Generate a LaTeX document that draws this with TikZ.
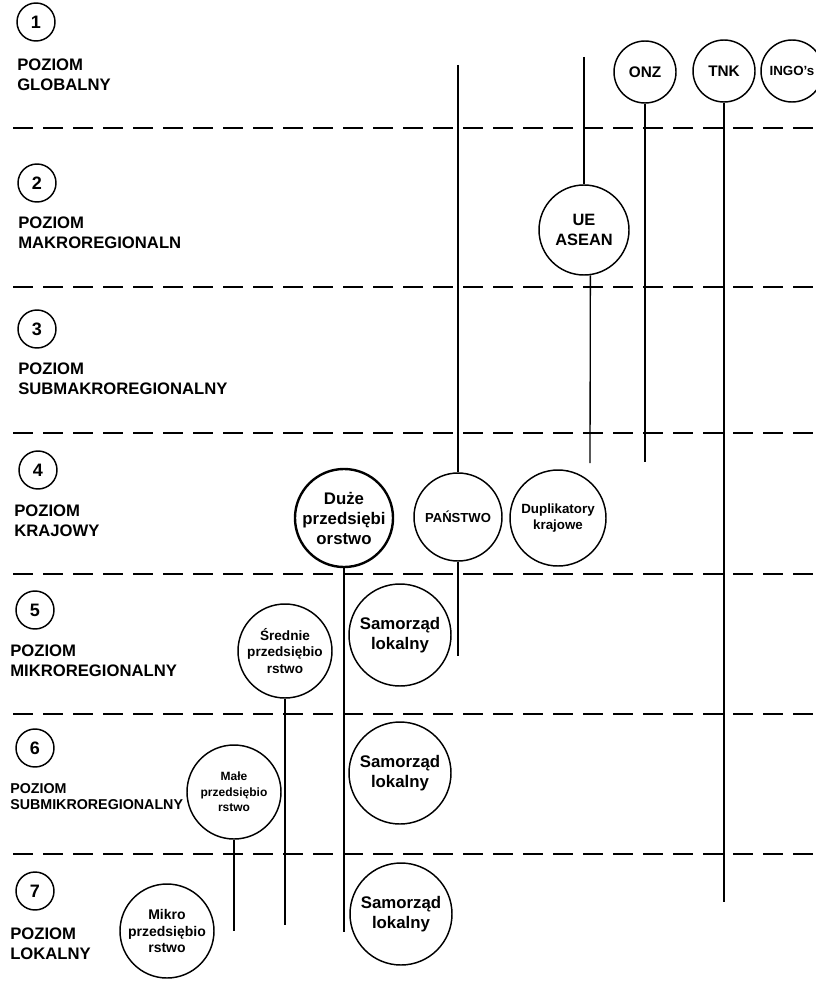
\documentclass[tikz,border=0pt]{standalone}
\usepackage{fontspec}
\setmainfont{Liberation Sans}
\usetikzlibrary{positioning}

\begin{document}
\begin{tikzpicture}[x=0.75pt, y=-0.75pt,
    lvl/.style={circle, draw, line width=1.1pt, minimum size=28.5pt, inner sep=0pt, font=\fontsize{13.5}{15}\selectfont\bfseries},
    poziom/.style={anchor=north west, align=left, inner sep=0pt, font=\fontsize{12.5}{14.5}\selectfont\bfseries},
    org/.style={circle, draw, line width=1.1pt, inner sep=0pt, align=center},
    sep/.style={line width=2.2pt, dash pattern=on 15pt off 7.5pt},
    link/.style={line width=1pt}]
    \useasboundingbox (0,0) rectangle (816,995);

    % poziomy
    \foreach \y in {128,287,433,574,714,854}
        \draw[sep] (13,\y) -- (816,\y);

    \node[lvl] (l1) at (36,22) {1};
    \node[lvl] (l2) at (37,183) {2};
    \node[lvl] (l3) at (37,329) {3};
    \node[lvl] (l4) at (38,470) {4};
    \node[lvl] (l5) at (35,610) {5};
    \node[lvl] (l6) at (35,748) {6};
    \node[lvl] (l7) at (35,891) {7};

    \node[poziom] (p1) at (17,59) {POZIOM\\GLOBALNY};
    \node[poziom] (p2) at (18,217) {POZIOM\\MAKROREGIONALN};
    \node[poziom] (p3) at (18,363) {POZIOM\\SUBMAKROREGIONALNY};
    \node[poziom] (p4) at (14,505) {POZIOM\\KRAJOWY};
    \node[poziom] (p5) at (10,645) {POZIOM\\MIKROREGIONALNY};
    \node[poziom, font=\fontsize{10.7}{12.5}\selectfont\bfseries] (p6) at (10,783) {POZIOM\\SUBMIKROREGIONALNY};
    \node[poziom] (p7) at (10,928) {POZIOM\\LOKALNY};

    % podmioty
    \node[org, minimum size=46.5pt, font=\fontsize{11.5}{13}\selectfont\bfseries] (onz) at (645,72) {ONZ};
    \node[org, minimum size=46.5pt, font=\fontsize{11.5}{13}\selectfont\bfseries] (tnk) at (724,71) {TNK};
    \node[org, minimum size=46.5pt, font=\fontsize{10}{12}\selectfont\bfseries] (ingo) at (792,71) {INGO’s};
    \node[org, minimum size=67.5pt, font=\fontsize{12.3}{15}\selectfont\bfseries] (ueasean) at (584,230) {UE\\ASEAN};
    \node[org, minimum size=70.5pt, line width=1.8pt, font=\fontsize{12.6}{15}\selectfont\bfseries] (duze) at (344,518) {Duże\\przedsiębi\\orstwo};
    \node[org, minimum size=66pt, font=\fontsize{9.8}{12}\selectfont\bfseries] (panstwo) at (458,517) {PAŃSTWO};
    \node[org, minimum size=72pt, font=\fontsize{10}{12}\selectfont\bfseries] (duplikatory) at (558,518) {Duplikatory\\krajowe};
    \node[org, minimum size=70.5pt, font=\fontsize{10.2}{12.5}\selectfont\bfseries] (srednie) at (285,651) {Średnie\\przedsiębio\\rstwo};
    \node[org, minimum size=76.5pt, font=\fontsize{12.6}{15.5}\selectfont\bfseries] (samorzad5) at (400,635) {Samorząd\\lokalny};
    \node[org, minimum size=76.5pt, font=\fontsize{12.6}{15.5}\selectfont\bfseries] (samorzad6) at (400,773) {Samorząd\\lokalny};
    \node[org, minimum size=70.5pt, font=\fontsize{9}{11.5}\selectfont\bfseries] (male) at (234,792) {Małe\\przedsiębio\\rstwo};
    \node[org, minimum size=70.5pt, font=\fontsize{10.5}{12.5}\selectfont\bfseries] (mikro) at (167,931) {Mikro\\przedsiębio\\rstwo};
    \node[org, minimum size=76.5pt, font=\fontsize{12.6}{15.5}\selectfont\bfseries] (samorzad7) at (401,914) {Samorząd\\lokalny};

    % powiazania
    \coordinate (pantop) at (458,65);
    \coordinate (panend) at (458,656);
    \coordinate (uetop) at (584,57);
    \coordinate (ueend) at (590,463);
    \coordinate (onzend) at (645,462);
    \coordinate (tnkend) at (724,902);
    \coordinate (duzeend) at (344,932);
    \coordinate (srend) at (285,925);
    \coordinate (maleend) at (234,931);

    \draw[link] (pantop) -- (panstwo);
    \draw[link] (panstwo) -- (panend);
    \draw[link] (uetop) -- (ueasean);
    \draw[link] (ueasean.-82) -- (ueend);
    \draw[link] (onz) -- (onzend);
    \draw[link] (tnk) -- (tnkend);
    \draw[link] (duze) -- (duzeend);
    \draw[link] (srednie) -- (srend);
    \draw[link] (male) -- (maleend);
\end{tikzpicture}
\end{document}
